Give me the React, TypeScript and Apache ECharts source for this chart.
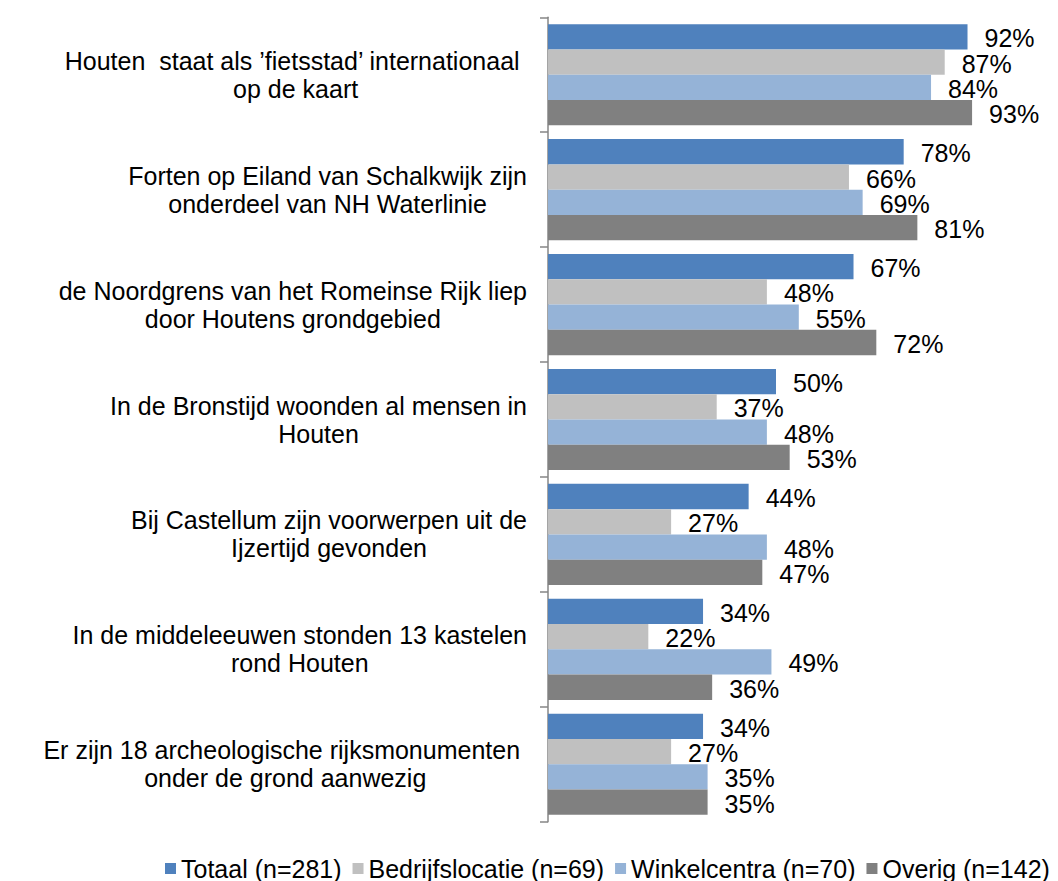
import React, { useEffect, useRef } from "react";
import * as echarts from "echarts";

const categories: string[][] = [
  ["Houten  staat als ’fietsstad’ internationaal ", "op de kaart"],
  ["Forten op Eiland van Schalkwijk zijn", "onderdeel van NH Waterlinie"],
  ["de Noordgrens van het Romeinse Rijk liep", "door Houtens grondgebied"],
  ["In de Bronstijd woonden al mensen in", "Houten"],
  ["Bij Castellum zijn voorwerpen uit de", "Ijzertijd gevonden"],
  ["In de middeleeuwen stonden 13 kastelen", "rond Houten"],
  ["Er zijn 18 archeologische rijksmonumenten ", "onder de grond aanwezig"],
];

const seriesNames = [
  "Totaal (n=281)",
  "Bedrijfslocatie (n=69)",
  "Winkelcentra (n=70)",
  "Overig (n=142)",
];

const totaal = [92, 78, 67, 50, 44, 34, 34];
const bedrijfslocatie = [87, 66, 48, 37, 27, 22, 27];
const winkelcentra = [84, 69, 55, 48, 48, 49, 35];
const overig = [93, 81, 72, 53, 47, 36, 35];

const colors = ["#4F81BD", "#C0C0C0", "#95B3D7", "#808080"];

const FONT = "'Liberation Sans', Arial, Helvetica, sans-serif";

export default function App() {
  const ref = useRef<HTMLDivElement>(null);

  useEffect(() => {
    if (!ref.current) return;
    const chart = echarts.init(ref.current, null, { renderer: "svg" });
    const values = [totaal, bedrijfslocatie, winkelcentra, overig];
    const catKeys = categories.map((c) => c.join("\n"));

    chart.setOption({
      animation: false,
      backgroundColor: "#ffffff",
      textStyle: { fontFamily: FONT },
      grid: { left: 548, top: 17.3, bottom: 59.3, right: 54, containLabel: false },
      legend: {
        data: seriesNames,
        left: 160,
        top: 851,
        icon: "rect",
        itemWidth: 11,
        itemHeight: 11,
        itemGap: 11,
        textStyle: { fontFamily: FONT, fontSize: 25, color: "#000000" },
      },
      xAxis: {
        type: "value",
        min: 0,
        max: 100,
        show: false,
        splitLine: { show: false },
      },
      yAxis: {
        type: "category",
        inverse: true,
        data: catKeys,
        axisLine: { show: true, lineStyle: { color: "#868686", width: 1.5 } },
        axisTick: { show: true, length: 8, lineStyle: { color: "#868686", width: 1.5 } },
        axisLabel: {
          margin: 21,
          align: "right",
          color: "#000000",
          fontFamily: FONT,
          fontSize: 25,
          lineHeight: 28,
          formatter: (v: string) =>
            v
              .split("\n")
              .map((l) => `{c|${l}}`)
              .join("\n"),
          rich: {
            c: {
              align: "center",
              fontFamily: FONT,
              fontSize: 25,
              lineHeight: 28,
              color: "#000000",
            },
          },
        },
      },
      series: seriesNames.map((name, i) => ({
        name,
        type: "bar",
        data: values[i],
        barGap: "0%",
        barCategoryGap: "12%",
        itemStyle: { color: colors[i] },
        label: {
          show: true,
          position: "right",
          distance: 17,
          offset: [0, 1.5],
          formatter: "{c}%",
          color: "#000000",
          fontFamily: FONT,
          fontSize: 25,
        },
      })),
    });

    return () => chart.dispose();
  }, []);

  return (
    <div
      ref={ref}
      style={{ position: "absolute", left: 0, top: 0, width: 1058, height: 881 }}
    />
  );
}
